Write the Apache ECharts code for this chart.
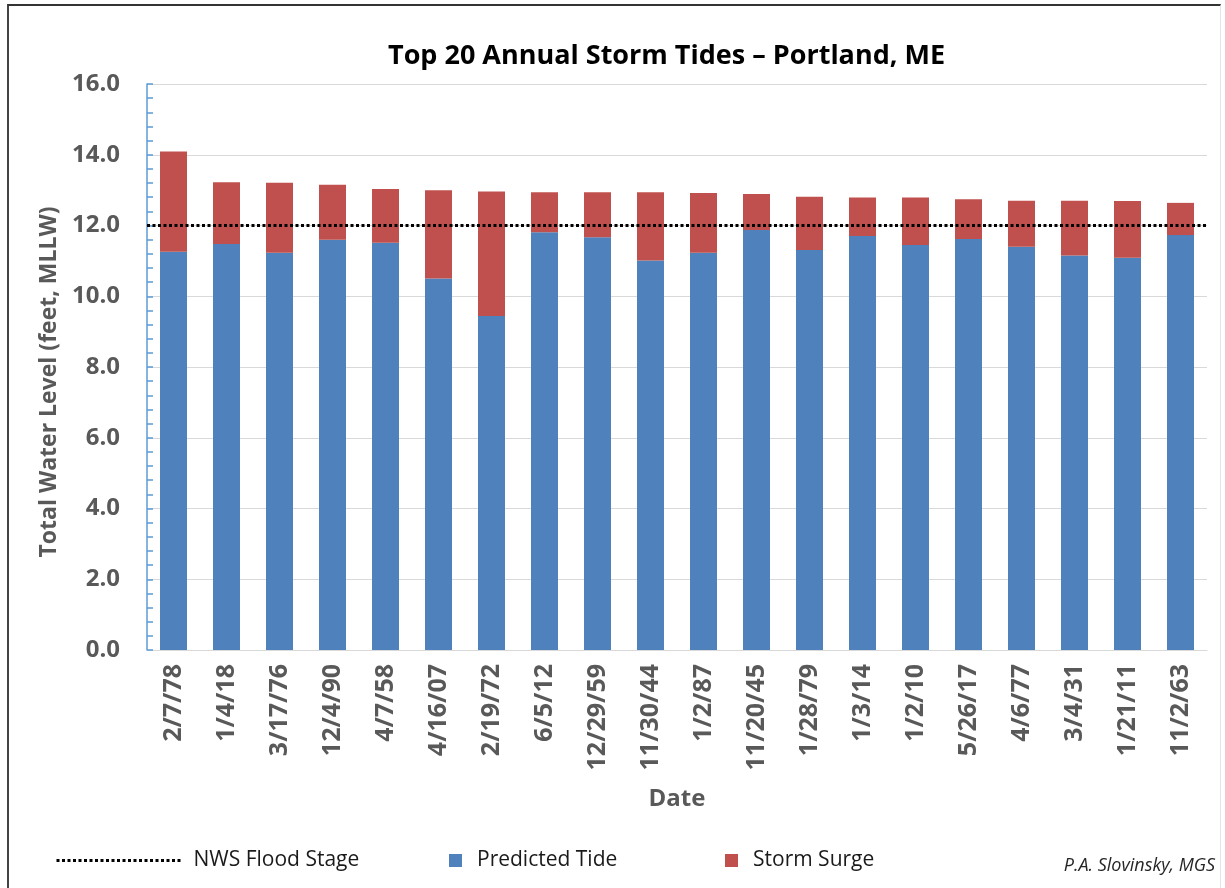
<!DOCTYPE html>
<html>
<head>
<meta charset="utf-8">
<script src="https://cdn.jsdelivr.net/npm/echarts@6/dist/echarts.min.js"></script>
<style>
  html, body { margin: 0; padding: 0; background: #fff; }
  #chart { width: 1225px; height: 888px; }
  #frame {
    position: absolute; left: 7px; top: 4px; right: 4px; bottom: -10px;
    border-top: 2px solid #333; border-left: 2px solid #444; border-right: 1px solid #e4e4e4;
    pointer-events: none;
  }
</style>
</head>
<body>
<div id="chart"></div>
<div id="frame"></div>
<script>
// storm dates, highest total water level first
const dates = ['2/7/78', '1/4/18', '3/17/76', '12/4/90', '4/7/58', '4/16/07', '2/19/72', '6/5/12', '12/29/59', '11/30/44',
  '1/2/87', '11/20/45', '1/28/79', '1/3/14', '1/2/10', '5/26/17', '4/6/77', '3/4/31', '1/21/11', '11/2/63']
// feet, MLLW
const predictedTide = [11.26, 11.48, 11.23, 11.60, 11.51, 10.50, 9.44, 11.81, 11.67, 11.01,
  11.23, 11.87, 11.31, 11.70, 11.45, 11.62, 11.40, 11.15, 11.09, 11.73]
const stormSurge = [2.83, 1.74, 1.98, 1.55, 1.52, 2.50, 3.52, 1.13, 1.27, 1.93,
  1.69, 1.02, 1.50, 1.09, 1.34, 1.12, 1.30, 1.55, 1.60, 0.91]
const floodStage = 12.0
const yTicks = { min: 0, max: 16, step: 2 }

const FONT = '"Open Sans", "Liberation Sans", sans-serif'
const GRAY = '#595959'
const BLUE = '#4f81bd'
const RED = '#c0504d'
const DOTS = { color: '#000', width: 3, type: [3, 2.5] }

const chart = echarts.init(document.getElementById('chart'))

const legendText = { color: '#1a1a1a', fontSize: 21, fontFamily: FONT }
const squareText = { ...legendText, padding: [0, 0, 0, 10] }

chart.setOption({
  animation: false,
  title: {
    text: 'Top 20 Annual Storm Tides \u2013 Portland, ME',
    left: 383,
    top: 38,
    textStyle: { fontSize: 27, fontWeight: 'bold', color: '#000', fontFamily: FONT },
  },
  grid: { left: 147, right: 18, top: 84, bottom: 238 },
  legend: [
    {
      data: ['NWS Flood Stage'], left: 50, top: 845,
      itemWidth: 124, itemHeight: 14, textStyle: { ...legendText, padding: [0, 0, 0, 8] },
      itemStyle: { opacity: 0 },
      lineStyle: DOTS,
    },
    {
      data: ['Predicted Tide'], left: 444, top: 845, icon: 'rect',
      itemWidth: 13, itemHeight: 13, textStyle: squareText,
    },
    {
      data: ['Storm Surge'], left: 720, top: 845, icon: 'rect',
      itemWidth: 13, itemHeight: 13, textStyle: squareText,
    },
  ],
  graphic: [{
    type: 'text', right: 10, top: 857,
    style: { text: 'P.A. Slovinsky, MGS', font: 'italic 18px ' + FONT, fill: '#262626' },
  }],
  xAxis: {
    type: 'category',
    data: dates,
    name: 'Date',
    nameLocation: 'middle',
    nameGap: 137,
    nameTextStyle: { fontSize: 24, fontWeight: 'bold', color: GRAY, fontFamily: FONT },
    axisLine: { lineStyle: { color: '#d9d9d9', width: 1 } },
    axisTick: { show: false },
    axisLabel: {
      interval: 0, rotate: 90, margin: 14,
      fontSize: 25, fontWeight: 'bold', color: GRAY, fontFamily: FONT,
    },
  },
  yAxis: {
    type: 'value',
    min: yTicks.min, max: yTicks.max, interval: yTicks.step,
    name: 'Total Water Level (feet, MLLW)',
    nameLocation: 'middle',
    nameGap: 86,
    nameTextStyle: {
      fontSize: 23, fontWeight: 'bold', color: GRAY, fontFamily: FONT,
      padding: [0, 30, 0, 0],
    },
    axisLine: { show: true, lineStyle: { color: '#5b9bd5', width: 1.5 } },
    axisTick: { show: true, inside: true, length: 6, lineStyle: { color: '#5b9bd5', width: 1.5 } },
    minorTick: { show: true, splitNumber: 5, length: 6, lineStyle: { color: '#5b9bd5', width: 1.5 } },
    splitLine: { lineStyle: { color: '#d9d9d9', width: 1 } },
    axisLabel: {
      margin: 27, fontSize: 24, fontWeight: 'bold', color: GRAY, fontFamily: FONT,
      formatter: v => v.toFixed(1),
    },
  },
  series: [
    {
      name: 'NWS Flood Stage',
      type: 'line',
      data: [],
      symbol: 'none',
      lineStyle: DOTS,
      itemStyle: { color: '#000' },
      markLine: {
        silent: true,
        symbol: 'none',
        label: { show: false },
        lineStyle: DOTS,
        data: [{ yAxis: floodStage }],
      },
      z: 5,
    },
    {
      name: 'Predicted Tide',
      type: 'bar',
      stack: 'tide',
      barWidth: 27,
      data: predictedTide,
      itemStyle: { color: BLUE },
    },
    {
      name: 'Storm Surge',
      type: 'bar',
      stack: 'tide',
      barWidth: 27,
      data: stormSurge,
      itemStyle: { color: RED },
    },
  ],
})
</script>
</body>
</html>
